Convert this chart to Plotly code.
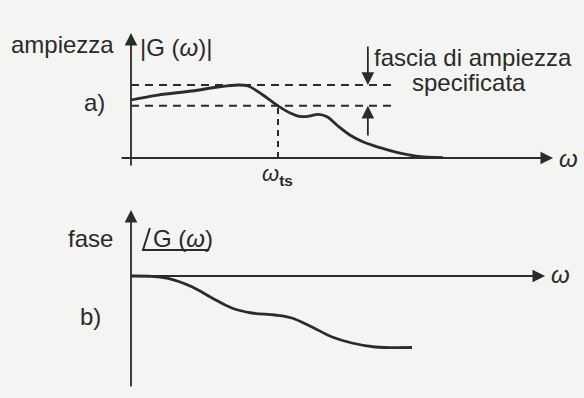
import plotly.graph_objects as go

# ---- data ----
# a) magnitude |G(w)|
omega_mag = [0.0, 0.64, 1.45, 2.07, 2.55, 2.79, 3.14, 3.5, 3.79, 4.02, 4.26, 4.45, 4.67, 4.90, 5.21, 5.52, 5.93, 6.33, 6.79, 7.43]
mag = [1.0, 1.086, 1.155, 1.224, 1.259, 1.241, 1.086, 0.9, 0.776, 0.716, 0.724, 0.753, 0.712, 0.569, 0.397, 0.281, 0.178, 0.098, 0.034, 0.005]

# specified amplitude band
band_upper = 1.26
band_lower = 0.90
band_end = 6.2
omega_ts = 3.5

# b) phase /G(w) in degrees
omega_ph = [0.0, 0.5, 0.88, 1.45, 1.93, 2.40, 2.88, 3.43, 3.83, 4.31, 4.79, 5.26, 5.81, 6.69]
phase = [0.0, -1.0, -6.0, -27.0, -55.0, -80.0, -92.5, -97.5, -105.0, -127.5, -152.5, -167.5, -177.5, -178.8]

INK = "#2b2b2b"
TXT = "#2a2a2a"
BG = "#f4f4f2"
FONT = "Liberation Sans, Arial, sans-serif"

fig = go.Figure()

# magnitude curve
fig.add_trace(go.Scatter(x=omega_mag, y=mag, mode="lines", xaxis="x", yaxis="y",
                         line=dict(color=INK, width=2.8, shape="spline", smoothing=1.0),
                         hoverinfo="skip"))
# band dashed lines
fig.add_trace(go.Scatter(x=[0, band_end], y=[band_upper, band_upper], mode="lines", xaxis="x", yaxis="y",
                         line=dict(color=INK, width=2, dash="8px,6px"), hoverinfo="skip"))
fig.add_trace(go.Scatter(x=[0, band_end], y=[band_lower, band_lower], mode="lines", xaxis="x", yaxis="y",
                         line=dict(color=INK, width=2, dash="8px,6px"), hoverinfo="skip"))
# omega_ts dashed vertical
fig.add_trace(go.Scatter(x=[omega_ts, omega_ts], y=[0, band_lower], mode="lines", xaxis="x", yaxis="y",
                         line=dict(color=INK, width=2, dash="6px,5px"), hoverinfo="skip"))

# phase curve
fig.add_trace(go.Scatter(x=omega_ph, y=phase, mode="lines", xaxis="x", yaxis="y2",
                         line=dict(color=INK, width=2.8, shape="spline", smoothing=1.0),
                         hoverinfo="skip"))
# angle symbol for /G(w)
fig.add_trace(go.Scatter(x=[0.45, 0.286, 1.86], y=[120, 65, 65], mode="lines", xaxis="x", yaxis="y2",
                         line=dict(color=TXT, width=2), hoverinfo="skip"))


def arrow(x, y, ax, ay, yref):
    fig.add_annotation(x=x, y=y, ax=ax, ay=ay, xref="x", yref=yref, axref="x", ayref=yref,
                       text="", showarrow=True, arrowhead=2, arrowsize=1.4, arrowwidth=1.8,
                       arrowcolor=INK, standoff=0, startstandoff=0)


# axes a)
arrow(0, 2.155, 0, -0.155, "y")
arrow(10.05, 0, -0.26, 0, "y")
# band arrows
arrow(5.64, band_upper, 5.64, 1.95, "y")
arrow(5.64, band_lower, 5.64, 0.36, "y")
# axes b)
arrow(0, 165, 0, -280, "y2")
arrow(9.86, 0, 0, 0, "y2")


def label(x, y, text, yref, xanchor="left", size=24, yanchor="middle"):
    fig.add_annotation(x=x, y=y, xref="x", yref=yref, text=text, showarrow=False,
                       xanchor=xanchor, yanchor=yanchor,
                       font=dict(family=FONT, size=size, color=TXT))


label(-0.36, 1.95, "ampiezza", "y", xanchor="right")
label(0.17, 1.90, "|G (<i>ω</i>)|", "y")
label(-0.57, 0.95, "a)", "y", xanchor="right")
label(5.74, 1.74, "fascia di ampiezza", "y")
label(8.05, 1.31, "specificata", "y", xanchor="center")
label(10.15, 0.0, "<i>ω</i>", "y")
label(omega_ts, -0.29, "<i>ω</i><sub><b>ts</b></sub>", "y", xanchor="center", size=22)

label(-0.38, 95, "fase", "y2", xanchor="right")
label(0.47, 95, "G (<i>ω</i>)", "y2")
label(-0.67, -100, "b)", "y2", xanchor="right")
label(9.95, 5, "<i>ω</i>", "y2")

fig.update_layout(
    width=584, height=398,
    margin=dict(l=0, r=0, t=0, b=0),
    paper_bgcolor=BG, plot_bgcolor=BG,
    showlegend=False,
    xaxis=dict(range=[-3.119, 10.786], visible=False, domain=[0, 1]),
    yaxis=dict(range=[-0.7069, 2.7241], visible=False, domain=[0.5, 1], anchor="x"),
    yaxis2=dict(range=[-305, 192.5], visible=False, domain=[0, 0.5], anchor="x"),
)

fig.write_html("out.html", config={"displayModeBar": False},
               post_script="document.body.style.margin='0';document.body.style.overflow='hidden';")
